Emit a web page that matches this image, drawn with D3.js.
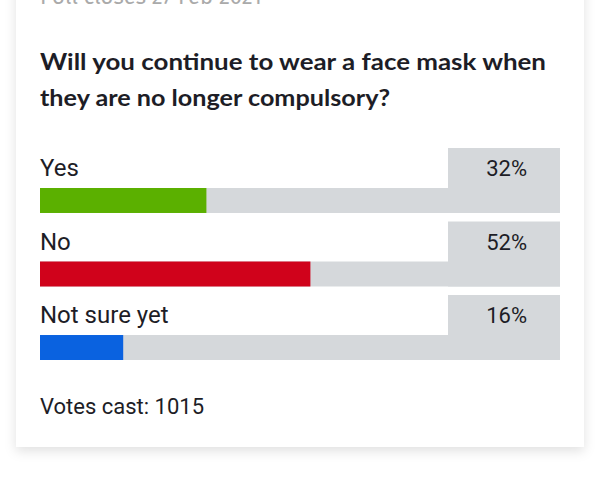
<!DOCTYPE html><html><head><meta charset="utf-8"><script src="https://cdn.jsdelivr.net/npm/d3@7"></script>
<style>body{margin:0;background:#fff}</style></head><body><svg id="c" width="600" height="484"></svg>
<script>
const categories=["Yes","No","Not sure yet"];
const values=[32,52,16];
const colors=["#5bb000","#d0021b","#0a62e0"];
const svg=d3.select("#c");
const defs=svg.append("defs");
const f=defs.append("filter").attr("id","sh").attr("x","-10%").attr("y","-10%").attr("width","120%").attr("height","130%");
f.append("feDropShadow").attr("dx",0).attr("dy",4).attr("stdDeviation",6).attr("flood-color","#000").attr("flood-opacity",0.12);
svg.append("rect").attr("x",16).attr("y",-20).attr("width",568).attr("height",467).attr("fill","#fff").attr("filter","url(#sh)");
svg.append("text").attr("x",40).attr("y",4).attr("font-family","Fira Sans, Lato, sans-serif").attr("font-size",22).attr("fill","#aaa").text("Poll closes 27 Feb 2021");
const t=svg.append("text").attr("font-family","Lato, sans-serif").attr("font-weight",700).attr("font-size",23).attr("fill","#1d1d26");
t.append("tspan").attr("x",40).attr("y",70).attr("textLength",506).attr("lengthAdjust","spacingAndGlyphs").text("Will you continue to wear a face mask when");
t.append("tspan").attr("x",40).attr("y",106).attr("textLength",350).attr("lengthAdjust","spacingAndGlyphs").text("they are no longer compulsory?");
const x=d3.scaleLinear().domain([0,100]).range([40,560]);
const y=d3.scaleBand().domain(categories).range([148,360]).paddingInner(0.116).paddingOuter(0);
const g=svg.selectAll("g.r").data(categories).join("g");
g.append("rect").attr("x",448).attr("y",d=>y(d)).attr("width",112).attr("height",y.bandwidth()).attr("fill","#d5d8db");
g.append("rect").attr("x",x(0)).attr("y",d=>y(d)+40).attr("width",x(100)-x(0)).attr("height",y.bandwidth()-40).attr("fill","#d5d8db");
g.append("rect").attr("x",x(0)).attr("y",d=>y(d)+40).attr("width",(d,i)=>x(values[i])-x(0)).attr("height",y.bandwidth()-40).attr("fill",(d,i)=>colors[i]);
g.append("text").attr("x",40).attr("y",d=>y(d)+28).attr("font-family","Roboto, sans-serif").attr("font-size",24).attr("fill","#1d1d26").text(d=>d);
g.append("text").attr("x",527).attr("y",d=>y(d)+28).attr("text-anchor","end").attr("font-family","Roboto, sans-serif").attr("font-size",22).attr("fill","#1d1d26").text((d,i)=>values[i]+"%");
svg.append("text").attr("x",40).attr("y",414).attr("font-family","Roboto, sans-serif").attr("font-size",22).attr("fill","#1d1d26").text("Votes cast: 1015");
</script></body></html>
